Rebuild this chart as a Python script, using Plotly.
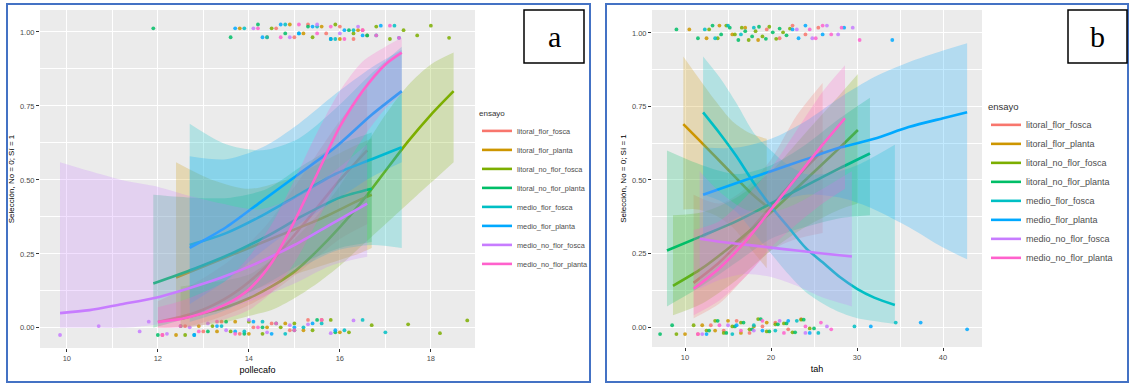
import plotly.graph_objects as go

W, H = 1130, 383

GROUPS = ["litoral_flor_fosca", "litoral_flor_planta", "litoral_no_flor_fosca",
          "litoral_no_flor_planta", "medio_flor_fosca", "medio_flor_planta",
          "medio_no_flor_fosca", "medio_no_flor_planta"]
COLORS = ["#F8766D", "#CD9600", "#7CAE00", "#00BE67", "#00BFC4", "#00A9FF", "#C77CFF", "#FF61CC"]

Y_TICKS = [0, 0.25, 0.5, 0.75, 1.0]
Y_TICK_TEXT = ["0.00", "0.25", "0.50", "0.75", "1.00"]
A_X_TICKS = [10, 12, 14, 16, 18]
B_X_TICKS = [10, 20, 30, 40]

# vertical jitter offsets of the 0/1 points
JITTER = [0.012, -0.018, 0.025, -0.005, 0.018, -0.024, 0.006, -0.012,
          0.021, -0.020, 0.002, 0.015, -0.008, 0.027, -0.015, 0.009]

# ---------- panel a (pollecafo) ----------
A_FIT_X = [
    [12.0, 12.8, 13.6, 14.4, 15.2, 16.0, 16.6],
    [12.4, 13.2, 14.0, 14.8, 15.6, 16.4, 16.7],
    [12.5, 13.0, 13.5, 14.0, 14.5, 15.0, 15.5, 16.0, 16.5, 17.0, 17.5, 18.0, 18.5],
    [11.9, 12.8, 13.6, 14.4, 15.2, 16.0, 16.7],
    [12.7, 13.5, 14.3, 15.1, 15.9, 16.7, 17.36],
    [12.7, 13.5, 14.3, 15.1, 15.9, 16.7, 17.36],
    [9.85, 10.5, 11.2, 11.9, 12.6, 13.4, 14.2, 15.0, 15.8, 16.6],
    [12.0, 12.5, 13.0, 13.5, 14.0, 14.5, 15.0, 15.5, 16.0, 16.5, 17.0, 17.36],
]
A_FIT_P = [
    [0.02, 0.05, 0.11, 0.21, 0.35, 0.50, 0.60],
    [0.17, 0.22, 0.27, 0.32, 0.37, 0.43, 0.45],
    [0.03, 0.05, 0.07, 0.10, 0.14, 0.19, 0.26, 0.34, 0.43, 0.53, 0.63, 0.72, 0.80],
    [0.15, 0.20, 0.25, 0.31, 0.38, 0.44, 0.47],
    [0.28, 0.32, 0.38, 0.45, 0.52, 0.57, 0.61],
    [0.27, 0.34, 0.43, 0.52, 0.61, 0.72, 0.80],
    [0.05, 0.06, 0.08, 0.10, 0.13, 0.17, 0.22, 0.28, 0.35, 0.42],
    [0.02, 0.03, 0.05, 0.08, 0.13, 0.22, 0.36, 0.52, 0.68, 0.80, 0.89, 0.93],
]
A_FIT_LO = [
    [0.00, 0.01, 0.05, 0.11, 0.20, 0.30, 0.35],
    [0.03, 0.07, 0.12, 0.17, 0.21, 0.25, 0.27],
    [0.00, 0.01, 0.02, 0.04, 0.06, 0.10, 0.15, 0.21, 0.28, 0.35, 0.42, 0.49, 0.56],
    [0.00, 0.04, 0.09, 0.15, 0.22, 0.27, 0.29],
    [0.02, 0.06, 0.13, 0.20, 0.26, 0.28, 0.27],
    [0.08, 0.16, 0.26, 0.35, 0.43, 0.51, 0.56],
    [0.00, 0.00, 0.00, 0.01, 0.03, 0.06, 0.10, 0.15, 0.21, 0.24],
    [0.00, 0.00, 0.01, 0.03, 0.06, 0.12, 0.22, 0.36, 0.51, 0.64, 0.74, 0.79],
]
A_FIT_HI = [
    [0.09, 0.15, 0.23, 0.35, 0.52, 0.70, 0.81],
    [0.56, 0.50, 0.47, 0.50, 0.56, 0.62, 0.64],
    [0.14, 0.15, 0.16, 0.18, 0.23, 0.30, 0.38, 0.48, 0.60, 0.72, 0.82, 0.89, 0.93],
    [0.45, 0.44, 0.44, 0.47, 0.55, 0.62, 0.66],
    [0.69, 0.62, 0.60, 0.64, 0.74, 0.86, 0.95],
    [0.58, 0.57, 0.61, 0.69, 0.79, 0.88, 0.94],
    [0.56, 0.53, 0.50, 0.48, 0.45, 0.42, 0.40, 0.44, 0.52, 0.62],
    [0.07, 0.09, 0.12, 0.16, 0.24, 0.35, 0.50, 0.66, 0.80, 0.90, 0.95, 0.98],
]
A_TOP_X = [
    [14.6, 15.0, 15.3, 15.7, 16.0, 16.3, 16.5],
    [13.8, 14.4, 14.9, 15.2, 15.6, 16.0, 16.4, 16.6],
    [14.5, 15.4, 15.9, 16.3, 16.8, 17.1, 17.4, 17.7, 18.0, 18.4],
    [11.9, 13.6, 14.2, 14.8, 15.3, 15.8, 16.2, 16.6],
    [13.9, 14.4, 14.8, 15.1, 15.5, 15.9, 16.3, 16.8, 17.2],
    [13.7, 14.3, 14.7, 15.1, 15.4, 15.8, 16.1, 16.5, 16.9, 17.3],
    [14.1, 14.9, 15.5, 16.0, 16.4],
    [14.2, 14.7, 15.1, 15.5, 15.8, 16.1, 16.5, 16.8, 17.1, 17.3],
]
A_BOT_X = [
    [12.1, 12.6, 13.0, 13.4, 13.8, 14.1, 14.5, 14.9, 15.3],
    [12.4, 12.9, 13.3, 13.7, 14.0, 14.4, 14.8, 15.2, 15.6, 16.0],
    [12.6, 13.2, 13.6, 14.0, 14.3, 14.7, 15.0, 15.4, 15.8, 16.2, 16.7, 17.5, 18.2, 18.8],
    [12.0, 12.5, 13.1, 13.5, 13.9, 14.3, 14.6, 15.0, 15.5, 15.9],
    [12.8, 13.4, 13.9, 14.3, 14.8, 15.2, 15.6, 16.1, 16.5, 17.0],
    [12.8, 13.3, 13.7, 14.1, 14.5, 15.0, 15.4, 15.9],
    [9.85, 10.7, 11.6, 11.8, 12.2, 12.7, 13.1, 13.5, 14.0, 14.4, 14.9, 15.3, 15.8, 16.3],
    [12.1, 12.5, 12.9, 13.3, 13.7, 14.2, 14.6, 15.0, 15.6],
]

# ---------- panel b (tah) ----------
B_FIT_X = [
    [11.0, 14.0, 17.0, 20.0, 23.0, 26.0],
    [9.8, 11.5, 13.5, 15.5, 17.5, 19.5],
    [8.6, 12.0, 16.0, 20.0, 24.0, 28.0, 30.1],
    [7.9, 12.0, 16.0, 20.0, 24.0, 28.0, 31.5],
    [12.1, 14.0, 16.0, 18.0, 20.0, 22.0, 24.0, 26.0, 28.0, 30.0, 32.0, 34.4],
    [12.1, 16.0, 20.0, 24.0, 28.0, 32.0, 36.0, 40.0, 42.8],
    [11.7, 14.0, 17.0, 20.0, 23.0, 26.0, 29.4],
    [11.0, 14.0, 17.0, 20.0, 23.0, 26.0, 28.6],
]
B_FIT_P = [
    [0.15, 0.22, 0.31, 0.41, 0.51, 0.60],
    [0.69, 0.64, 0.58, 0.52, 0.46, 0.41],
    [0.14, 0.20, 0.29, 0.39, 0.50, 0.61, 0.67],
    [0.26, 0.31, 0.36, 0.42, 0.48, 0.54, 0.59],
    [0.73, 0.66, 0.58, 0.49, 0.41, 0.34, 0.27, 0.22, 0.17, 0.13, 0.10, 0.075],
    [0.45, 0.49, 0.53, 0.57, 0.61, 0.64, 0.68, 0.71, 0.73],
    [0.30, 0.29, 0.28, 0.27, 0.26, 0.25, 0.24],
    [0.13, 0.20, 0.29, 0.40, 0.51, 0.62, 0.71],
]
B_FIT_LO = [
    [0.03, 0.08, 0.17, 0.26, 0.30, 0.32],
    [0.40, 0.40, 0.38, 0.34, 0.27, 0.20],
    [0.04, 0.08, 0.16, 0.26, 0.34, 0.40, 0.42],
    [0.07, 0.14, 0.22, 0.30, 0.34, 0.37, 0.38],
    [0.45, 0.43, 0.39, 0.32, 0.25, 0.18, 0.12, 0.08, 0.05, 0.03, 0.02, 0.01],
    [0.30, 0.37, 0.42, 0.45, 0.44, 0.40, 0.34, 0.27, 0.23],
    [0.13, 0.16, 0.18, 0.17, 0.14, 0.10, 0.07],
    [0.04, 0.09, 0.17, 0.27, 0.35, 0.42, 0.47],
]
B_FIT_HI = [
    [0.45, 0.42, 0.47, 0.57, 0.72, 0.83],
    [0.92, 0.85, 0.77, 0.70, 0.66, 0.64],
    [0.38, 0.39, 0.44, 0.53, 0.66, 0.79, 0.86],
    [0.60, 0.55, 0.52, 0.55, 0.62, 0.71, 0.78],
    [0.92, 0.85, 0.76, 0.66, 0.60, 0.55, 0.52, 0.52, 0.53, 0.55, 0.58, 0.62],
    [0.61, 0.61, 0.64, 0.70, 0.78, 0.85, 0.90, 0.94, 0.965],
    [0.53, 0.46, 0.40, 0.39, 0.42, 0.47, 0.53],
    [0.33, 0.36, 0.44, 0.54, 0.67, 0.80, 0.89],
]
B_TOP_X = [
    [19.5, 21.0, 22.5, 24.0, 25.5],
    [10.5, 12.5, 14.0, 15.5, 17.0, 18.5],
    [12.8, 13.8, 14.8, 15.8, 16.6, 17.4, 18.2, 19.0, 19.8, 20.6, 21.4, 22.2],
    [9.0, 11.5, 13.2, 14.2, 15.2, 16.2, 17.0, 17.8, 18.6, 19.4, 20.2, 21.0, 21.8],
    [12.3, 13.5, 15.0, 16.5, 18.0],
    [22.5, 23.2, 24.0, 26.0, 28.5, 34.1],
    [23.0, 24.8, 26.5, 27.8, 29.5],
    [24.5, 25.2, 26.0, 27.0, 28.2, 30.3],
]
B_BOT_X = [
    [11.5, 13.0, 14.5, 16.0, 17.5, 19.0, 20.5, 22.0, 23.5],
    [10.0, 12.0, 13.5, 15.0, 16.5, 18.0, 19.5],
    [9.0, 11.0, 12.5, 13.5, 14.5, 15.5, 16.5, 17.5, 18.5, 19.5, 20.5, 21.5, 22.5, 23.5, 24.5],
    [7.1, 8.5, 12.8, 13.8, 14.8, 15.8, 16.8, 17.8, 18.8, 19.8, 20.8, 21.8, 22.8, 23.8, 25.0],
    [15.5, 18.0, 20.5, 23.0, 25.5, 29.7, 34.5],
    [12.5, 16.0, 19.0, 22.0, 24.5, 31.6, 37.4, 42.8],
    [12.0, 15.0, 18.0, 21.0, 24.0, 26.5],
    [11.5, 14.0, 16.5, 19.0, 21.5, 24.0, 25.8, 27.0],
]


def rgba(h, a):
    h = h.lstrip("#")
    return "rgba(%d,%d,%d,%.2f)" % (int(h[0:2], 16), int(h[2:4], 16), int(h[4:6], 16), a)


def px(x):
    return x / W


def py(y):
    return 1 - y / H


FONT = "Liberation Sans, Arial, sans-serif"
fig = go.Figure()

panels = [
    (A_FIT_X, A_FIT_P, A_FIT_LO, A_FIT_HI, A_TOP_X, A_BOT_X, "x", "y", "legend"),
    (B_FIT_X, B_FIT_P, B_FIT_LO, B_FIT_HI, B_TOP_X, B_BOT_X, "x2", "y2", "legend2"),
]

for fx, fp, flo, fhi, tx, bx, xa, ya, leg in panels:
    # jittered observations
    for g in range(len(GROUPS)):
        xs = tx[g] + bx[g]
        ys = [1 + JITTER[i % len(JITTER)] for i in range(len(tx[g]))] + \
             [0 + JITTER[(i + 5) % len(JITTER)] for i in range(len(bx[g]))]
        fig.add_trace(go.Scatter(x=xs, y=ys, mode="markers", xaxis=xa, yaxis=ya,
                                 marker=dict(color=COLORS[g], size=3.8, opacity=0.85),
                                 showlegend=False, hoverinfo="skip"))
    # smooths
    for g in range(len(GROUPS)):
        fig.add_trace(go.Scatter(x=fx[g], y=flo[g], mode="lines", xaxis=xa, yaxis=ya,
                                 line=dict(width=0, shape="spline", smoothing=0.8),
                                 showlegend=False, hoverinfo="skip"))
        fig.add_trace(go.Scatter(x=fx[g], y=fhi[g], mode="lines", xaxis=xa, yaxis=ya,
                                 line=dict(width=0, shape="spline", smoothing=0.8),
                                 fill="tonexty", fillcolor=rgba(COLORS[g], 0.24),
                                 showlegend=False, hoverinfo="skip"))
        fig.add_trace(go.Scatter(x=fx[g], y=fp[g], mode="lines", xaxis=xa, yaxis=ya,
                                 name=GROUPS[g], legend=leg,
                                 line=dict(color=COLORS[g], width=2.6, shape="spline", smoothing=0.8)))

axis_common = dict(showgrid=True, gridcolor="white", gridwidth=1.1, zeroline=False,
                   ticks="outside", ticklen=3, tickcolor="#333333", showline=False,
                   tickfont=dict(family=FONT, size=7.5, color="#4D4D4D"))

fig.update_layout(
    width=W, height=H, margin=dict(l=0, r=0, t=0, b=0),
    paper_bgcolor="white", plot_bgcolor="#EBEBEB",
    font=dict(family=FONT),
    xaxis=dict(domain=[px(40), px(475)], range=[9.41, 18.97], anchor="y",
               tickvals=A_X_TICKS, minor=dict(dtick=1, tick0=9, showgrid=True, gridcolor="white", gridwidth=0.5, ticks=""),
               title=dict(text="pollecafo", font=dict(size=9, color="black"), standoff=4), **axis_common),
    yaxis=dict(domain=[py(348), py(10)], range=[-0.068, 1.074], anchor="x",
               tickvals=Y_TICKS, ticktext=Y_TICK_TEXT,
               minor=dict(dtick=0.125, tick0=0, showgrid=True, gridcolor="white", gridwidth=0.5, ticks=""),
               title=dict(text="Selección, No = 0; Sí = 1", font=dict(size=8, color="black"), standoff=4), **axis_common),
    xaxis2=dict(domain=[px(652), px(982)], range=[6.16, 44.53], anchor="y2",
                tickvals=B_X_TICKS, minor=dict(dtick=5, tick0=5, showgrid=True, gridcolor="white", gridwidth=0.5, ticks=""),
                title=dict(text="tah", font=dict(size=9, color="black"), standoff=4), **axis_common),
    yaxis2=dict(domain=[py(347), py(10)], range=[-0.068, 1.078], anchor="x2",
                tickvals=Y_TICKS, ticktext=Y_TICK_TEXT,
                minor=dict(dtick=0.125, tick0=0, showgrid=True, gridcolor="white", gridwidth=0.5, ticks=""),
                title=dict(text="Selección, No = 0; Sí = 1", font=dict(size=8, color="black"), standoff=4), **axis_common),
    legend=dict(x=px(477), y=py(106), xanchor="left", yanchor="top", bgcolor="rgba(0,0,0,0)",
                traceorder="normal",
                font=dict(family=FONT, size=7.3, color="#4D4D4D"), tracegroupgap=0, itemwidth=30,
                title=dict(text="ensayo", font=dict(family=FONT, size=8, color="#333333"))),
    legend2=dict(x=px(986), y=py(98), xanchor="left", yanchor="top", bgcolor="rgba(0,0,0,0)",
                 traceorder="normal",
                 font=dict(family=FONT, size=9, color="#4D4D4D"), tracegroupgap=0, itemwidth=30,
                 title=dict(text="ensayo", font=dict(family=FONT, size=9.5, color="#333333"))),
    showlegend=True,
)

# panel frames and letter boxes
BLUE = "#4472C4"
for x0, x1 in [(7, 590), (606, 1128)]:
    fig.add_shape(type="rect", xref="paper", yref="paper", x0=px(x0), x1=px(x1), y0=py(382), y1=py(4),
                  line=dict(color=BLUE, width=2), fillcolor="rgba(0,0,0,0)", layer="above")
for x0, x1, label in [(524, 584, "a"), (1068, 1127, "b")]:
    fig.add_shape(type="rect", xref="paper", yref="paper", x0=px(x0), x1=px(x1), y0=py(63), y1=py(10),
                  line=dict(color="black", width=1.5), fillcolor="rgba(0,0,0,0)", layer="above")
    fig.add_annotation(x=px((x0 + x1) / 2), y=py(36), xref="paper", yref="paper", text=label,
                       xanchor="center", yanchor="middle",
                       showarrow=False, font=dict(family="Liberation Serif, Times New Roman, serif", size=30, color="black"))

fig.write_html("out.html", config={"displayModeBar": False},
               post_script="document.body.style.margin='0px';document.body.style.padding='0px';")
